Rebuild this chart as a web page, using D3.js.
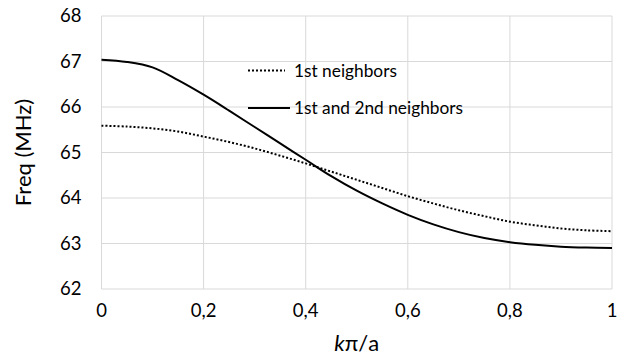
<!DOCTYPE html>
<html>
<head>
<meta charset="utf-8">
<script src="https://cdn.jsdelivr.net/npm/d3@7"></script>
<style>
  body { margin: 0; background: #fff; }
  svg text { font-family: Lato, "Open Sans", sans-serif; fill: #000; }
</style>
</head>
<body>
<div id="chart"></div>
<script>
const kValues = [0, 0.05, 0.1, 0.15, 0.2, 0.25, 0.3, 0.35, 0.4, 0.45, 0.5, 0.55, 0.6, 0.65, 0.7, 0.75, 0.8, 0.85, 0.9, 0.95, 1]
const firstNeighbors = [65.59, 65.57, 65.53, 65.46, 65.35, 65.23, 65.09, 64.93, 64.76, 64.58, 64.40, 64.22, 64.04, 63.88, 63.73, 63.60, 63.48, 63.40, 63.33, 63.29, 63.27]
const secondNeighbors = [67.04, 66.99, 66.87, 66.59, 66.27, 65.92, 65.56, 65.20, 64.84, 64.48, 64.16, 63.88, 63.63, 63.42, 63.25, 63.12, 63.03, 62.97, 62.93, 62.91, 62.90]
const xTicks = [0, 0.2, 0.4, 0.6, 0.8, 1]
const yTicks = [62, 63, 64, 65, 66, 67, 68]
const seriesNames = ['1st neighbors', '1st and 2nd neighbors']

const width = 618
const height = 364
const margin = { top: 16, right: 6, bottom: 75, left: 101.5 }

const svg = d3.select('#chart')
    .append('svg')
    .attr('width', width)
    .attr('height', height)

const x = d3.scaleLinear()
    .domain([0, 1])
    .range([margin.left, width - margin.right])

const y = d3.scaleLinear()
    .domain([62, 68])
    .range([height - margin.bottom, margin.top])

// grid
svg.append('g')
    .selectAll('line')
    .data(yTicks)
    .join('line')
    .attr('x1', x(0))
    .attr('x2', x(1))
    .attr('y1', d => y(d))
    .attr('y2', d => y(d))
    .attr('stroke', '#d9d9d9')
    .attr('stroke-width', 1)

svg.append('g')
    .selectAll('line')
    .data(xTicks)
    .join('line')
    .attr('x1', d => x(d))
    .attr('x2', d => x(d))
    .attr('y1', y(62))
    .attr('y2', y(68))
    .attr('stroke', '#d9d9d9')
    .attr('stroke-width', 1)

// tick labels
svg.append('g')
    .selectAll('text')
    .data(yTicks)
    .join('text')
    .attr('x', x(0) - 20)
    .attr('y', d => y(d))
    .attr('dy', '0.35em')
    .attr('text-anchor', 'end')
    .style('font-size', '18.5px')
    .text(d => d)

const fmt = d => d3.format('.1f')(d).replace('.', ',')
svg.append('g')
    .selectAll('text')
    .data(xTicks)
    .join('text')
    .attr('x', d => x(d))
    .attr('y', y(62) + 28)
    .attr('text-anchor', 'middle')
    .style('font-size', '18.5px')
    .text(d => d === 0 || d === 1 ? String(d) : fmt(d))

// axis titles
svg.append('text')
    .attr('transform', `translate(31, ${y(65)}) rotate(-90)`)
    .attr('text-anchor', 'middle')
    .style('font-size', '22px')
    .text('Freq (MHz)')

const xTitle = svg.append('text')
    .attr('x', x(0.5))
    .attr('y', 351)
    .attr('text-anchor', 'middle')
    .style('font-size', '22px')
xTitle.append('tspan').style('font-style', 'italic').text('k')
xTitle.append('tspan').text('π/a')

// lines
const line = d3.line()
    .x(d => x(d[0]))
    .y(d => y(d[1]))
    .curve(d3.curveCatmullRom)

svg.append('path')
    .datum(d3.zip(kValues, firstNeighbors))
    .attr('d', line)
    .attr('fill', 'none')
    .attr('stroke', '#000')
    .attr('stroke-width', 2)
    .attr('stroke-dasharray', '2,2')

svg.append('path')
    .datum(d3.zip(kValues, secondNeighbors))
    .attr('d', line)
    .attr('fill', 'none')
    .attr('stroke', '#000')
    .attr('stroke-width', 2)

// legend
const legend = svg.append('g')
const legendRows = [
    { name: seriesNames[0], y: 70.5, dash: '2,2', x2: 285 },
    { name: seriesNames[1], y: 108, dash: null, x2: 290 }
]
legendRows.forEach(r => {
    legend.append('line')
        .attr('x1', 248)
        .attr('x2', r.x2)
        .attr('y1', r.y)
        .attr('y2', r.y)
        .attr('stroke', '#000')
        .attr('stroke-width', 2)
        .attr('stroke-dasharray', r.dash)
    legend.append('text')
        .attr('x', 294)
        .attr('y', r.y)
        .attr('dy', '0.35em')
        .style('font-size', '17.3px')
        .text(r.name)
})
</script>
</body>
</html>
